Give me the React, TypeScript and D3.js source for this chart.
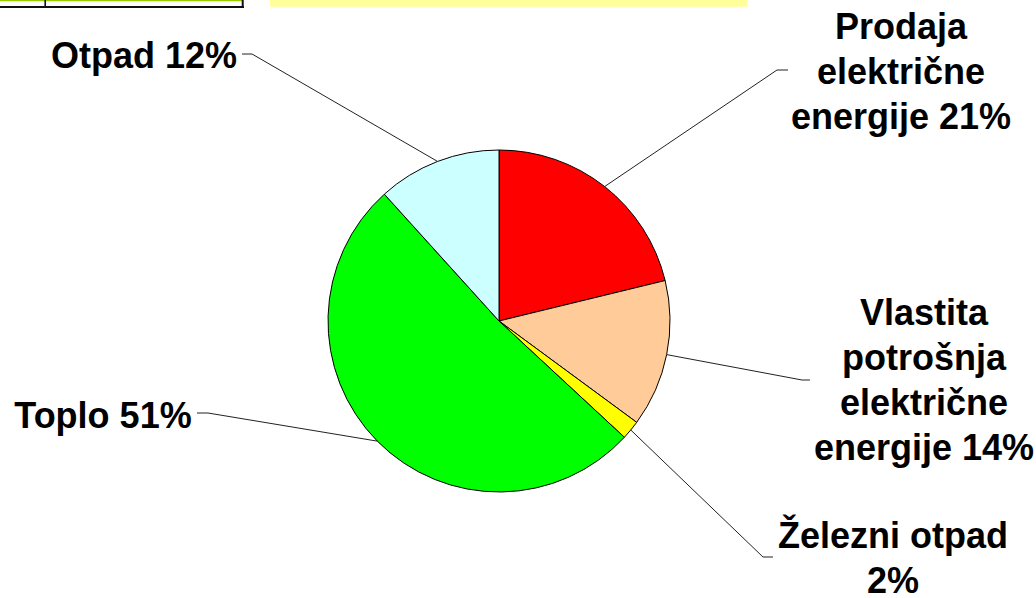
import React from "react";
import * as d3 from "d3";

const categories = [
  "Prodaja električne energije",
  "Vlastita potrošnja električne energije",
  "Železni otpad",
  "Toplo",
  "Otpad",
];
const values = [21.2, 13.9, 1.8, 51.4, 11.7];
const colors = ["#FF0000", "#FFCC99", "#FFFF00", "#00FF00", "#CCFFFF"];
// label text lines (the last line gets the percentage appended)
const labelLines = [
  ["Prodaja", "električne", "energije"],
  ["Vlastita", "potrošnja", "električne", "energije"],
  ["Železni otpad", ""],
  ["Toplo"],
  ["Otpad"],
];

// layout (positions of label blocks and leader elbows)
const labelLayout = [
  { x: 901, y: 39, elbow: [777, 70], end: [788, 70] },
  { x: 924, y: 325, elbow: [802, 380], end: [810, 380] },
  { x: 893, y: 548, elbow: [763, 557], end: [773, 557] },
  { x: 103, y: 428, elbow: [208, 413], end: [197, 413] },
  { x: 144, y: 68, elbow: [252, 54], end: [242, 54] },
];

const W = 1036;
const H = 598;
const cx = 499;
const cy = 321;
const R = 171;
const lineH = 45;

export default function App() {
  const pie = d3
    .pie<number>()
    .sort(null)
    .value((d) => d)
    .startAngle(0)
    .endAngle(2 * Math.PI);
  const arcs = pie(values);
  const arc = d3.arc<d3.PieArcDatum<number>>().innerRadius(0).outerRadius(R);
  const total = d3.sum(values);

  return (
    <div style={{ position: "fixed", left: 0, top: 0 }}>
      <svg width={W} height={H} style={{ display: "block" }}>
        <rect x={0} y={0} width={W} height={H} fill="#fff" />
        {/* top fragments */}
        <line x1={0} x2={242} y1={0.6} y2={0.6} stroke="#99CC00" strokeWidth={1.5} />
        <line x1={0} x2={244} y1={7} y2={7} stroke="#111" strokeWidth={2} />
        <line x1={45.2} x2={45.2} y1={0} y2={7} stroke="#111" strokeWidth={1.6} />
        <line x1={242.7} x2={242.7} y1={0} y2={8} stroke="#111" strokeWidth={2} />
        <rect x={270} y={0} width={477} height={6.7} fill="#FFFF99" />

        <g transform={`translate(${cx},${cy})`}>
          {arcs.map((a, i) => (
            <path
              key={categories[i]}
              d={arc(a) || ""}
              fill={colors[i]}
              stroke="#000"
              strokeWidth={1}
              strokeLinejoin="round"
            />
          ))}
        </g>

        {arcs.map((a, i) => {
          const mid = (a.startAngle + a.endAngle) / 2;
          const sx = cx + R * Math.sin(mid);
          const sy = cy - R * Math.cos(mid);
          const L = labelLayout[i];
          const pct = Math.round((values[i] / total) * 100) + "%";
          const lines = labelLines[i].map((t, j, arr) =>
            j === arr.length - 1 ? (t ? t + " " + pct : pct) : t
          );
          return (
            <g key={"lbl" + i}>
              <polyline
                points={`${sx},${sy} ${L.elbow[0]},${L.elbow[1]} ${L.end[0]},${L.end[1]}`}
                fill="none"
                stroke="#222"
                strokeWidth={1}
              />
              <text
                textAnchor="middle"
                fontFamily="'Liberation Sans', Arial, sans-serif"
                fontWeight="bold"
                fontSize={36}
                fill="#000"
              >
                {lines.map((t, j) => (
                  <tspan key={j} x={L.x} y={L.y + j * lineH}>
                    {t}
                  </tspan>
                ))}
              </text>
            </g>
          );
        })}
      </svg>
    </div>
  );
}
